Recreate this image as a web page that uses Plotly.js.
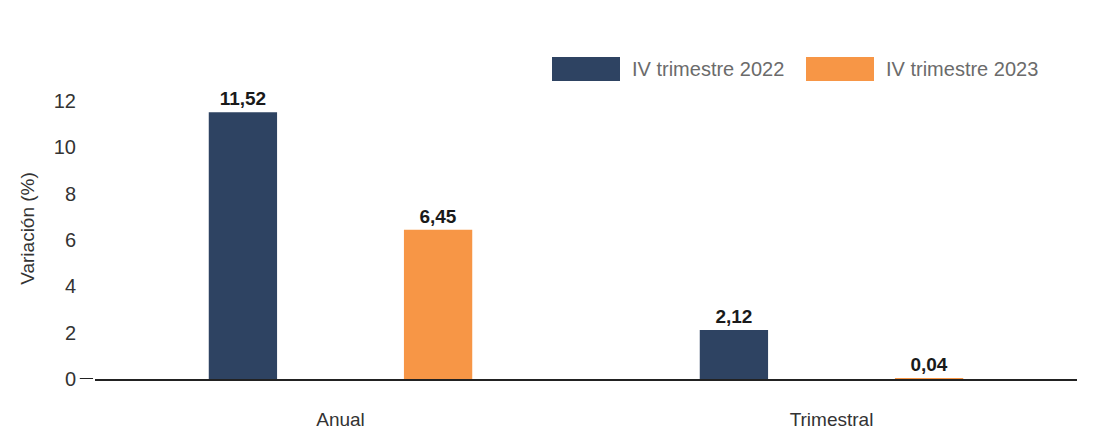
<!DOCTYPE html>
<html>
<head>
<meta charset="utf-8">
<script src="https://cdn.plot.ly/plotly-3.0.1.min.js"></script>
<style>html,body{margin:0;padding:0;background:#fff;}#chart{width:1103px;height:439px;}</style>
</head>
<body>
<div id="chart"></div>
<script>
const categories = ["Anual", "Trimestral"];
const seriesNames = ["IV trimestre 2022", "IV trimestre 2023"];
const values2022 = [11.52, 2.12];
const values2023 = [6.45, 0.04];
const yTicks = [0, 2, 4, 6, 8, 10, 12];
const colors = ["#2E4362", "#F79646"];

const FONT = "Liberation Sans, Arial, sans-serif";

const traces = [values2022, values2023].map((vals, i) => ({
  type: "bar",
  name: seriesNames[i],
  x: categories,
  y: vals,
  marker: {color: colors[i]},
  text: vals.map(v => v.toFixed(2).replace(".", ",")),
  texttemplate: "%{text}",
  textposition: "outside",
  cliponaxis: false,
  textfont: {family: FONT, size: 19, color: "#1a1a1a", weight: "bold"},
  showlegend: false,
  hoverinfo: "x+y"
}));

// legend drawn as swatches + labels
const shapes = [
  {type: "line", xref: "paper", yref: "y", x0: -0.0155, x1: -0.002, y0: 0, y1: 0,
   line: {color: "#222", width: 2}}
];
const annotations = [];
const legendX = [552, 806];
seriesNames.forEach((n, i) => {
  shapes.push({type: "rect", xref: "paper", yref: "paper",
    x0: (legendX[i] - 95) / 982, x1: (legendX[i] + 68 - 95) / 982,
    y0: (379 - 81) / 301, y1: (379 - 57) / 301,
    fillcolor: colors[i], line: {width: 0}});
  annotations.push({xref: "paper", yref: "paper",
    x: (legendX[i] + 78 - 95) / 982, y: (379 - 69) / 301,
    xanchor: "left", yanchor: "middle", showarrow: false,
    text: n, font: {family: FONT, size: 20, color: "#6b6b6b"}});
});

const layout = {
  width: 1103, height: 439,
  margin: {l: 95, r: 26, t: 78, b: 60, pad: 0},
  paper_bgcolor: "#fff", plot_bgcolor: "#fff",
  separators: ",.",
  barmode: "group",
  bargap: 0.205,
  bargroupgap: 0.65,
  font: {family: FONT, size: 19, color: "#333"},
  xaxis: {
    type: "category",
    range: [-0.5, 1.5],
    showline: true, linecolor: "#222", linewidth: 1.5,
    showgrid: false, zeroline: false,
    ticks: "", ticklabelstandoff: 22,
    tickfont: {family: FONT, size: 19, color: "#333"}
  },
  yaxis: {
    range: [0, 13],
    tickvals: yTicks,
    ticktext: yTicks.map(String),
    showgrid: false, zeroline: false, showline: false,
    ticks: "", ticklabelstandoff: 18,
    tickfont: {family: FONT, size: 20, color: "#333"},
    title: {text: "Variación (%)", font: {family: FONT, size: 19, color: "#333"}, standoff: 14}
  },
  shapes: shapes,
  annotations: annotations,
  showlegend: false
};

Plotly.newPlot("chart", traces, layout, {displayModeBar: false, responsive: false});
</script>
</body>
</html>
